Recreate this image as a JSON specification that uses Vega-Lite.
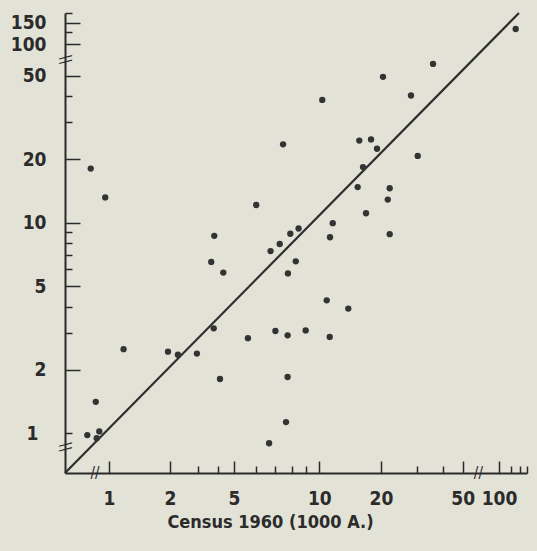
{
  "$schema": "https://vega.github.io/schema/vega-lite/v6.json",
  "width": 462,
  "height": 460,
  "autosize": {"type": "none"},
  "padding": {"left": 65, "top": 13, "right": 10, "bottom": 78},
  "background": "#e3e2d7",
  "config": {
    "view": {"stroke": null},
    "font": "DejaVu Sans Condensed, DejaVu Sans, sans-serif"
  },
  "datasets": {
    "points": [
      {"census": 0.82, "estimate": 18.1},
      {"census": 0.96, "estimate": 13.2},
      {"census": 1.18, "estimate": 2.51},
      {"census": 0.866, "estimate": 1.41},
      {"census": 0.79, "estimate": 0.98},
      {"census": 0.90, "estimate": 1.02},
      {"census": 0.875, "estimate": 0.947},
      {"census": 1.955, "estimate": 2.44},
      {"census": 2.24, "estimate": 2.36},
      {"census": 2.94, "estimate": 2.39},
      {"census": 4.09, "estimate": 1.81},
      {"census": 3.74, "estimate": 3.15},
      {"census": 3.61, "estimate": 6.52},
      {"census": 3.77, "estimate": 8.67},
      {"census": 4.29, "estimate": 5.8},
      {"census": 5.6, "estimate": 2.83},
      {"census": 5.99, "estimate": 12.15},
      {"census": 6.73, "estimate": 7.34},
      {"census": 7.25, "estimate": 7.93},
      {"census": 7.9, "estimate": 8.87},
      {"census": 8.45, "estimate": 9.4},
      {"census": 7.45, "estimate": 23.6},
      {"census": 8.26, "estimate": 6.56},
      {"census": 7.75, "estimate": 5.75},
      {"census": 7.0, "estimate": 3.06},
      {"census": 7.73, "estimate": 2.92},
      {"census": 7.73, "estimate": 1.85},
      {"census": 7.63, "estimate": 1.13},
      {"census": 6.65, "estimate": 0.896},
      {"census": 8.95, "estimate": 3.08},
      {"census": 11.24, "estimate": 2.87},
      {"census": 10.87, "estimate": 4.28},
      {"census": 13.85, "estimate": 3.91},
      {"census": 11.28, "estimate": 8.54},
      {"census": 11.63, "estimate": 9.96},
      {"census": 10.34, "estimate": 38.4},
      {"census": 16.9, "estimate": 11.1},
      {"census": 15.39, "estimate": 14.78},
      {"census": 16.34, "estimate": 18.4},
      {"census": 15.67, "estimate": 24.6},
      {"census": 17.88, "estimate": 24.9},
      {"census": 19.12, "estimate": 22.5},
      {"census": 20.45, "estimate": 49.4},
      {"census": 22.05, "estimate": 14.6},
      {"census": 21.58, "estimate": 12.9},
      {"census": 22.05, "estimate": 8.83},
      {"census": 28.0, "estimate": 40.3},
      {"census": 30.19, "estimate": 20.8},
      {"census": 35.84, "estimate": 56.9},
      {"census": 137.2, "estimate": 133.3}
    ],
    "equality": [
      {"census": 0.62, "estimate": 0.647},
      {"census": 146, "estimate": 180}
    ],
    "xbreaks": [
      {"census": 0.86, "estimate": 0.647},
      {"census": 59.6, "estimate": 0.647}
    ],
    "ybreaks": [
      {"census": 0.62, "estimate": 0.861},
      {"census": 0.62, "estimate": 59.7}
    ]
  },
  "encoding": {
    "x": {
      "field": "census",
      "type": "quantitative",
      "scale": {
        "type": "log",
        "domain": [0.62, 1, 2, 5, 10, 20, 50, 60, 100, 170],
        "range": [0, 44, 105, 169, 254.3, 316, 397.7, 414, 434, 462],
        "nice": false,
        "zero": false
      },
      "axis": {
        "values": [1, 2, 3, 4, 5, 6, 7, 8, 9, 10, 20, 30, 40, 50, 100, 125, 150, 170],
        "labelExpr": "indexof([1, 2, 5, 10, 20, 50, 100], datum.value) >= 0 ? datum.value + '' : ''",
        "grid": false,
        "labelOverlap": false,
        "labelFlush": false,
        "domainColor": "#2a2a2a",
        "domainWidth": 2,
        "tickColor": "#2a2a2a",
        "tickWidth": 1.5,
        "tickSize": {"condition": {"test": "indexof([1, 2, 5, 10, 20, 50, 100], datum.value) >= 0", "value": -12}, "value": -7},
        "labelFontSize": 19,
        "labelFontWeight": "bold",
        "labelColor": "#2b2b2b",
        "labelPadding": 28,
        "title": "Census 1960 (1000 A.)",
        "titleFontSize": 18,
        "titleFontWeight": "bold",
        "titleColor": "#2b2b2b",
        "titleX": 205,
        "titleAlign": "center",
        "titlePadding": 0
      }
    },
    "y": {
      "field": "estimate",
      "type": "quantitative",
      "scale": {
        "type": "log",
        "domain": [0.647, 60, 100, 180],
        "range": [460, 46.1, 31.3, 0],
        "nice": false,
        "zero": false
      },
      "axis": {
        "values": [1, 2, 3, 4, 5, 6, 7, 8, 9, 10, 20, 30, 40, 50, 100, 125, 150, 180],
        "labelExpr": "indexof([1, 2, 5, 10, 20, 50, 100, 150], datum.value) >= 0 ? datum.value + '' : ''",
        "grid": false,
        "labelOverlap": false,
        "labelFlush": false,
        "domainColor": "#2a2a2a",
        "domainWidth": 2,
        "tickColor": "#2a2a2a",
        "tickWidth": 1.5,
        "tickSize": {"condition": {"test": "indexof([2, 5, 10, 20, 50, 100, 150], datum.value) >= 0", "value": -15}, "value": -7},
        "labelFontSize": 19,
        "labelFontWeight": "bold",
        "labelColor": "#2b2b2b",
        "labelPadding": 34,
        "title": null
      }
    }
  },
  "layer": [
    {
      "data": {"name": "equality"},
      "mark": {"type": "line", "color": "#2e2e2e", "strokeWidth": 2.2}
    },
    {
      "data": {"name": "points"},
      "mark": {"type": "circle", "color": "#333333", "opacity": 1, "size": 40}
    },
    {
      "data": {"name": "xbreaks"},
      "mark": {"type": "text", "text": "//", "fontSize": 15, "color": "#2a2a2a", "align": "center", "baseline": "middle"}
    },
    {
      "data": {"name": "ybreaks"},
      "mark": {"type": "text", "text": "\\\\", "angle": 90, "fontSize": 15, "color": "#2a2a2a", "align": "center", "baseline": "middle"}
    }
  ]
}
